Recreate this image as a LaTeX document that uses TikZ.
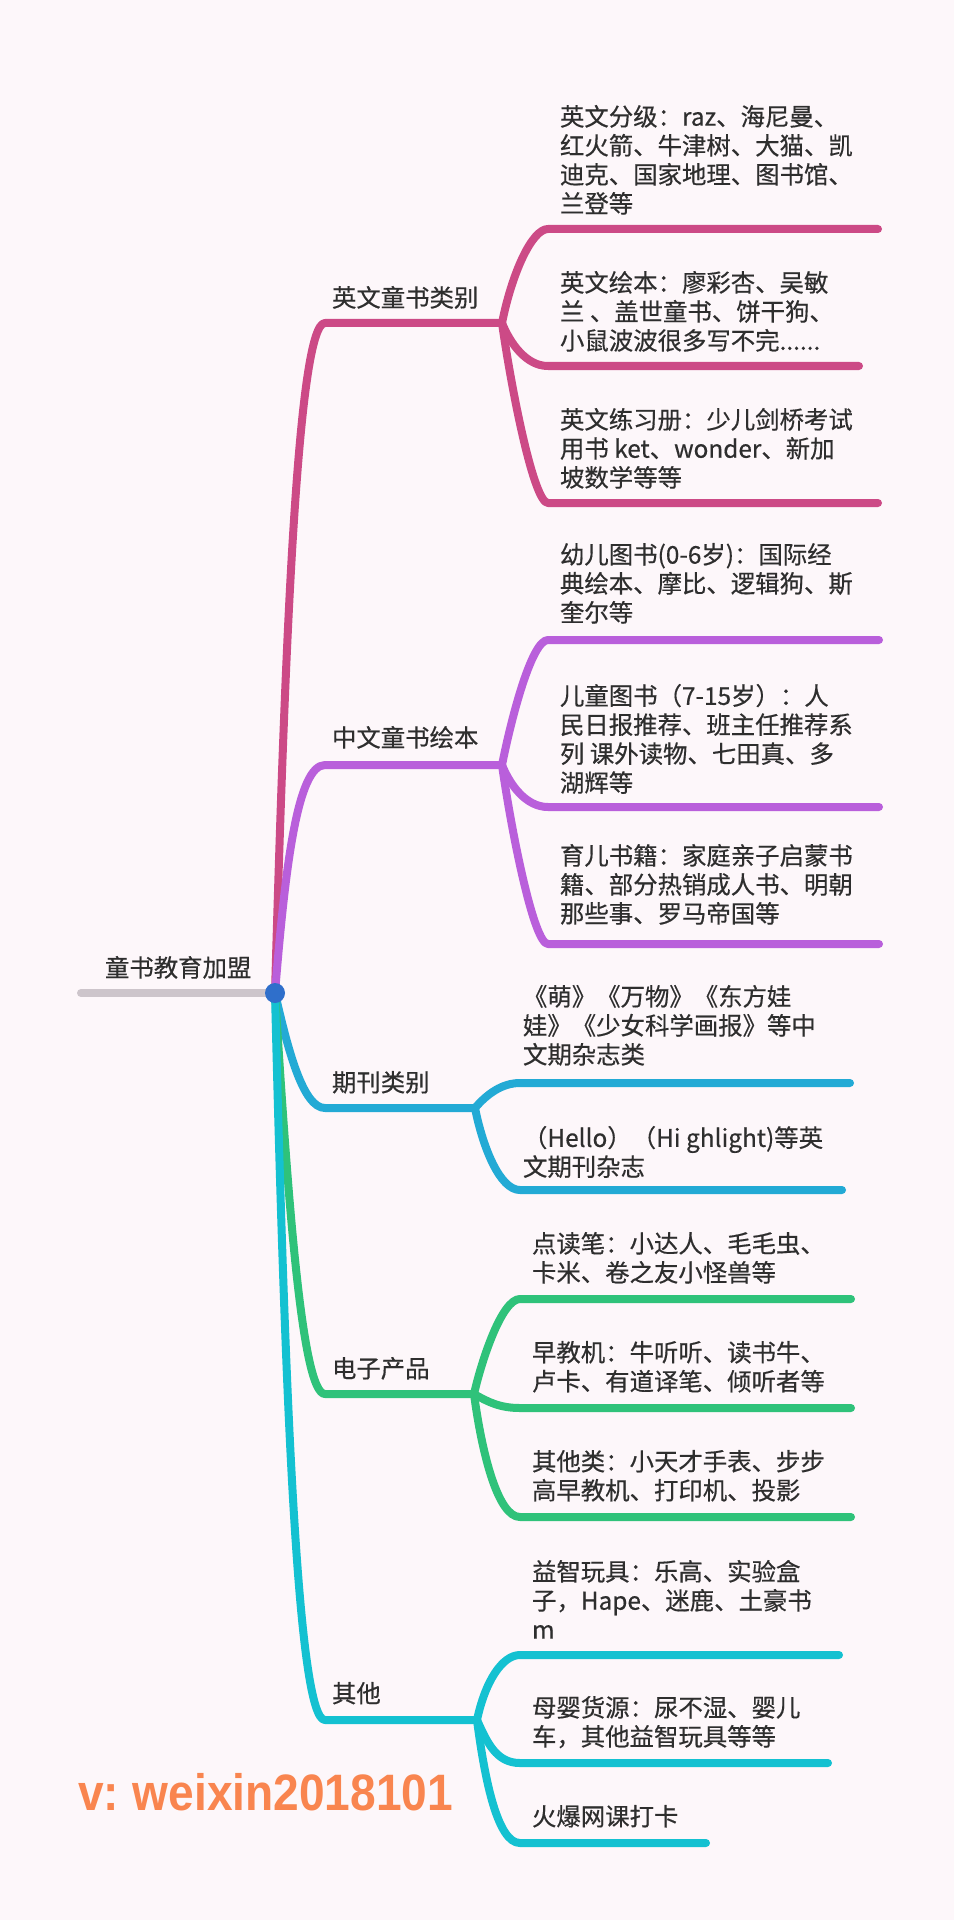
\documentclass[tikz,border=0pt]{standalone}
\usepackage{fontspec}
\usetikzlibrary{backgrounds}
\setmainfont{Noto Sans CJK SC}[FakeBold=0.45]
\newfontfamily\wmfont{Liberation Sans}
\definecolor{bgc}{HTML}{FDF7FA}
\definecolor{ink}{HTML}{2E2E2E}
\definecolor{rootc}{HTML}{CDC5CB}
\definecolor{hubc}{HTML}{2F6FCB}
\definecolor{pinkc}{HTML}{CC4A86}
\definecolor{purpc}{HTML}{B95FDB}
\definecolor{bluec}{HTML}{23AAD5}
\definecolor{greenc}{HTML}{2FC27A}
\definecolor{cyanc}{HTML}{14C1D1}
\definecolor{wmc}{HTML}{F9854F}
\tikzset{
  x=0.5pt,y=-0.5pt,
  limb/.style={line width=4pt,line cap=round,line join=round},
  txt/.style={anchor=north west,inner sep=0pt,outer sep=0pt,align=left,text=ink,yshift=5.5pt,
    font=\fontsize{12.2pt}{14.5pt}\selectfont},
}
\newcommand{\tstrut}{\rule{0pt}{10.15pt}}
\begin{document}
\begin{tikzpicture}
\useasboundingbox (0,0) rectangle (954,1920);

% hub and free ends
\node[circle,fill=hubc,minimum size=10pt,inner sep=0pt] (hub) at (275,993) {};
\coordinate (rootend) at (81,993);

% corners and joints
\foreach \n/\y/\jx in {a/323/502,b/765/502,c/1108/475,d/1394/474,e/1720/477}{
  \coordinate (k\n) at (325,\y);
  \coordinate (j\n) at (\jx,\y);
}
% child bars: name / start x / y / end x
\foreach \n/\sx/\y/\ex in {a1/548/229/878,a2/548/366/859,a3/548/503/878,
  b1/548/640/879,b2/548/807/879,b3/548/944/879,
  c1/520/1083/850,c2/520/1190/842,
  d1/520/1299/851,d2/520/1408/851,d3/520/1517/851,
  e1/520/1655/839,e2/520/1763/828,e3/520/1843/706}{
  \coordinate (s\n) at (\sx,\y);
  \coordinate (t\n) at (\ex,\y);
}

\begin{scope}[on background layer]
\fill[bgc] (0,0) rectangle (954,1920);
% root bar
\draw[limb,rootc] (rootend) -- (hub.center);
% pink
\draw[limb,pinkc] (hub.center) .. controls +(10,-353) and +(-27,0) .. (ka) -- (ja);
\draw[limb,pinkc] (ja) .. controls +(10,-50) and +(-16,0) .. (sa1) -- (ta1);
\draw[limb,pinkc] (ja) .. controls +(8,20) and +(-22,0) .. (sa2) -- (ta2);
\draw[limb,pinkc] (ja) .. controls +(10,70) and +(-14,0) .. (sa3) -- (ta3);
% purple
\draw[limb,purpc] (hub.center) .. controls +(10,-123) and +(-28,0) .. (kb) -- (jb);
\draw[limb,purpc] (jb) .. controls +(10,-50) and +(-16,0) .. (sb1) -- (tb1);
\draw[limb,purpc] (jb) .. controls +(8,20) and +(-22,0) .. (sb2) -- (tb2);
\draw[limb,purpc] (jb) .. controls +(10,70) and +(-14,0) .. (sb3) -- (tb3);
% blue
\draw[limb,bluec] (hub.center) .. controls +(13,57) and +(-22,0) .. (kc) -- (jc);
\draw[limb,bluec] (jc) .. controls +(12,-14) and +(-18,0) .. (sc1) -- (tc1);
\draw[limb,bluec] (jc) .. controls +(8,40) and +(-20,0) .. (sc2) -- (tc2);
% green
\draw[limb,greenc] (hub.center) .. controls +(13,207) and +(-23,0) .. (kd) -- (jd);
\draw[limb,greenc] (jd) .. controls +(8,-35) and +(-18,0) .. (sd1) -- (td1);
\draw[limb,greenc] (jd) .. controls +(14,8) and +(-20,0) .. (sd2) -- (td2);
\draw[limb,greenc] (jd) .. controls +(8,60) and +(-22,0) .. (sd3) -- (td3);
% cyan
\draw[limb,cyanc] (hub.center) .. controls +(10,407) and +(-27,0) .. (ke) -- (je);
\draw[limb,cyanc] (je) .. controls +(8,-38) and +(-18,0) .. (se1) -- (te1);
\draw[limb,cyanc] (je) .. controls +(10,22) and +(-24,0) .. (se2) -- (te2);
\draw[limb,cyanc] (je) .. controls +(8,62) and +(-22,0) .. (se3) -- (te3);
\end{scope}

% root and branch labels
\node[txt] (root) at (105,967) {\tstrut 童书教育加盟};
\node[txt] (la) at (332,297) {\tstrut 英文童书类别};
\node[txt] (lb) at (332,737) {\tstrut 中文童书绘本};
\node[txt] (lc) at (332,1082) {\tstrut 期刊类别};
\node[txt] (ld) at (332,1368) {\tstrut 电子产品};
\node[txt] (le) at (332,1693) {\tstrut 其他};

% leaves
\node[txt] (ta) at (560,116) {\tstrut 英文分级：raz、海尼曼、\\红火箭、牛津树、大猫、凯\\迪克、国家地理、图书馆、\\兰登等};
\node[txt] (tb) at (560,282) {\tstrut 英文绘本：廖彩杏、吴敏\\兰 、盖世童书、饼干狗、\\小鼠波波很多写不完......};
\node[txt] (tc) at (560,419) {\tstrut 英文练习册：少儿剑桥考试\\用书 ket、wonder、新加\\坡数学等等};
\node[txt] (td) at (560,554) {\tstrut 幼儿图书(0-6岁)：国际经\\典绘本、摩比、逻辑狗、斯\\奎尔等};
\node[txt] (te) at (560,695) {\tstrut 儿童图书（7-15岁）：人\\民日报推荐、班主任推荐系\\列 课外读物、七田真、多\\湖辉等};
\node[txt] (tf) at (560,855) {\tstrut 育儿书籍：家庭亲子启蒙书\\籍、部分热销成人书、明朝\\那些事、罗马帝国等};
\node[txt] (tg) at (523,996) {\tstrut 《萌》《万物》《东方娃\\娃》《少女科学画报》等中\\文期杂志类};
\node[txt] (th) at (523,1137) {\tstrut （Hello）（Hi ghlight)等英\\文期刊杂志};
\node[txt] (ti) at (532,1243) {\tstrut 点读笔：小达人、毛毛虫、\\卡米、卷之友小怪兽等};
\node[txt] (tj) at (532,1352) {\tstrut 早教机：牛听听、读书牛、\\卢卡、有道译笔、倾听者等};
\node[txt] (tk) at (532,1461) {\tstrut 其他类：小天才手表、步步\\高早教机、打印机、投影};
\node[txt] (tl) at (532,1571) {\tstrut 益智玩具：乐高、实验盒\\子，Hape、迷鹿、土豪书\\m};
\node[txt] (tm) at (532,1707) {\tstrut 母婴货源：尿不湿、婴儿\\车，其他益智玩具等等};
\node[txt] (tn) at (532,1816) {\tstrut 火爆网课打卡};

% watermark
\node[anchor=base west,inner sep=0pt,text=wmc,font=\wmfont\bfseries\fontsize{25.6pt}{30pt}\selectfont,xscale=0.9] (wm) at (78,1810) {v:\hspace{-2pt} weixin2018101};
\end{tikzpicture}
\end{document}
